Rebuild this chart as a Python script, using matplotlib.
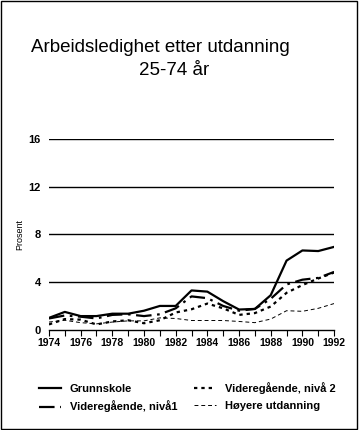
import numpy as np
import matplotlib
matplotlib.use('Agg')
import matplotlib.pyplot as plt
from matplotlib.patches import Rectangle

plt.rcParams['font.family'] = ['Liberation Sans', 'DejaVu Sans']

years = np.arange(1974, 1993)

grunnskole = [1.0, 1.5, 1.15, 1.15, 1.35, 1.35, 1.6, 2.0, 2.0, 3.3, 3.2, 2.4,
              1.7, 1.75, 2.9, 5.8, 6.65, 6.6, 6.95]
niva1 = [0.95, 1.2, 1.1, 0.95, 1.25, 1.3, 1.15, 1.3, 1.8, 2.8, 2.65, 2.0,
         1.6, 1.75, 2.6, 3.8, 4.2, 4.35, 4.85]
niva2 = [0.45, 0.9, 0.85, 0.45, 0.7, 0.8, 0.55, 0.8, 1.45, 1.72, 2.2, 1.8,
         1.25, 1.4, 1.95, 3.1, 3.75, 4.3, 4.8]
hoyere = [0.65, 0.8, 0.6, 0.5, 0.65, 0.75, 0.75, 1.0, 0.95, 0.78, 0.78, 0.78,
          0.7, 0.6, 0.9, 1.6, 1.55, 1.8, 2.2]

yticks = [0, 4, 8, 12, 16]

fig = plt.figure(figsize=(3.6, 4.3), dpi=100)
ax = fig.add_axes([0.136, 0.233, 0.792, 0.444])

ax.plot(years, grunnskole, color='black', lw=1.6, label='Grunnskole')
ax.plot(years, niva1, color='black', lw=1.6, dashes=(7, 2.5, 1.2, 2.5),
        label='Videregående, nivå1')
ax.plot(years, niva2, color='black', lw=1.6, dashes=(1.5, 1.8),
        label='Videregående, nivå 2')
ax.plot(years, hoyere, color='black', lw=0.7, dashes=(4, 3),
        label='Høyere utdanning')

ax.set_xlim(1974, 1992)
ax.set_ylim(0, 16)
ax.set_yticks(yticks)
ax.set_yticklabels([str(v) for v in yticks], fontsize=8, fontweight='bold')
ax.set_xticks(years)
ax.set_xticklabels([str(y) if y % 2 == 0 else '' for y in years],
                   fontsize=7.5, fontweight='bold')
for v in yticks[1:]:
    ax.axhline(v, color='black', lw=1.0, zorder=0)

for s in ['top', 'right', 'left']:
    ax.spines[s].set_visible(False)
ax.spines['bottom'].set_linewidth(1.0)
ax.tick_params(axis='y', length=0, pad=6)
ax.tick_params(axis='x', direction='out', length=4, width=0.8, pad=2)
ax.set_ylabel('Prosent', fontsize=6.5, labelpad=3)

fig.text(0.445, 0.89, 'Arbeidsledighet etter utdanning', ha='center', va='center',
         fontsize=13.5)
fig.text(0.483, 0.837, '25-74 år', ha='center', va='center', fontsize=13.5)

fig.legend(loc='upper left', bbox_to_anchor=(0.08, 0.135), ncol=2, frameon=False,
           handlelength=2.0, columnspacing=1.5, handletextpad=0.8,
           labelspacing=0.6, prop={'weight': 'bold', 'size': 8})

fig.patches.append(Rectangle((0.002, 0.003), 0.99, 0.994, transform=fig.transFigure,
                             fill=False, lw=1.0, edgecolor='black'))

fig.savefig('out.png', dpi=100)
